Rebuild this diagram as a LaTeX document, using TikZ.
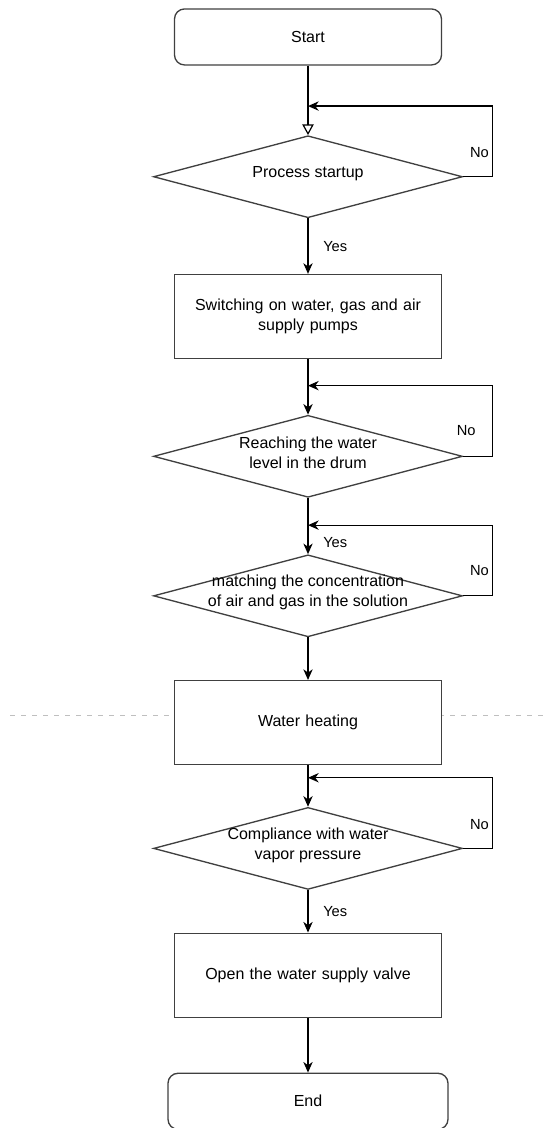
\documentclass[tikz,border=0pt]{standalone}
\usepackage{fontspec}
\setmainfont{Liberation Sans}
\usetikzlibrary{matrix, shapes, arrows.meta, positioning}
\tikzset{
    decision/.style={
        diamond,
        draw=black!75,
        line width=1pt,
        fill=white,
        minimum width=231.75pt,
        minimum height=61.5pt,
        inner sep=0pt
    },
    block/.style={
        rectangle,
        draw=black!75,
        line width=1pt,
        fill=white,
        minimum width=200.25pt,
        minimum height=63pt,
        text width=190pt,
        align=center
    },
    terminal/.style={
        block,
        rounded corners=7.5pt,
        minimum height=42pt
    },
    question/.style={
        align=center,
        font=\fontsize{12}{15}\selectfont,
        inner sep=0pt,
        yshift=2.5pt
    },
    answer/.style={
        font=\fontsize{11}{13}\selectfont,
        inner sep=2pt
    },
    connector/.style={
        -{Stealth[length=8pt,width=7pt,inset=2.5pt]},
        line width=0.9pt
    },
    separator/.style={
        draw=black!25,
        line width=0.75pt,
        dash pattern=on 3.75pt off 4.5pt
    }
}

\begin{document}
\begin{tikzpicture}[x=0.75pt, y=-0.75pt]
\useasboundingbox (0,0) rectangle (548,1128);

% stage line behind the heating step
\coordinate (sepL) at (10,715);
\coordinate (sepR) at (545,715);
\draw [separator] (sepL) -- (sepR);

\matrix (m)[matrix of nodes, row sep=31.3pt, inner sep=0pt, anchor=north, nodes={anchor=center, font=\fontsize{12}{15}\selectfont}] at (308,8) {
    |[terminal]| {Start} \\[21pt]
    |[decision, label={[question]center:Process startup}]| {} \\[10.5pt]
    |[block]| {Switching on water, gas and air\\supply pumps} \\[10.5pt]
    |[decision, label={[question]center:{Reaching the water\\level in the drum}}]| {} \\[11.25pt]
    |[decision, label={[question]center:{matching the concentration\\of air and gas in the solution}}]| {} \\[0.75pt]
    |[block]| {Water heating} \\
    |[decision, label={[question]center:{Compliance with water\\vapor pressure}}]| {} \\[0.75pt]
    |[block]| {Open the water supply valve} \\[9.75pt]
    |[terminal, minimum width=210pt]| {End} \\
};
\path [connector] (m-1-1) edge[-{Triangle[open,length=8pt,width=8.5pt]}] (m-2-1);
\path [connector] (m-2-1) edge node[answer, right=9pt] {Yes} (m-3-1);
\path [connector] (m-3-1) edge (m-4-1);
\path [connector] (m-4-1) edge node[answer, right=9pt, pos=.79] {Yes} (m-5-1);
\path [connector] (m-5-1) edge (m-6-1);
\path [connector] (m-6-1) edge (m-7-1);
\path [connector] (m-7-1) edge node[answer, right=9pt] {Yes} (m-8-1);
\path [connector] (m-8-1) edge (m-9-1);

% back loops for the "No" answers
\draw [connector] (m-2-1.east) -- ++(29,0) |- node[answer, pos=.17, left] {No} ([yshift=21.75pt]m-2-1.north);
\draw [connector] (m-4-1.east) -- ++(29,0) |- node[answer, pos=.18, left=10pt] {No} ([yshift=21.75pt]m-4-1.north);
\draw [connector] (m-5-1.east) -- ++(29,0) |- node[answer, pos=.18, left] {No} ([yshift=21.75pt]m-5-1.north);
\draw [connector] (m-7-1.east) -- ++(29,0) |- node[answer, pos=.17, left] {No} ([yshift=21.75pt]m-7-1.north);

\end{tikzpicture}
\end{document}
